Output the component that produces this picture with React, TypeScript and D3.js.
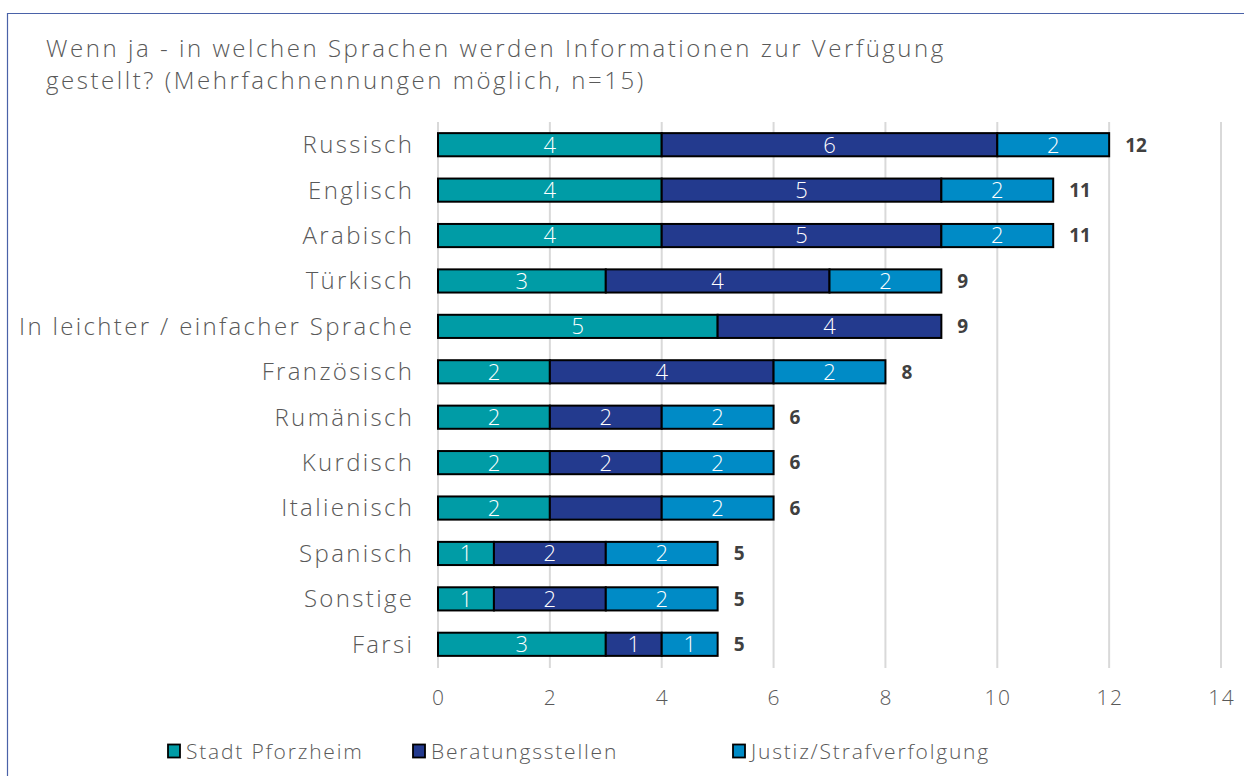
import React from "react";
import * as d3 from "d3";

const categories = [
  "Russisch",
  "Englisch",
  "Arabisch",
  "Türkisch",
  "In leichter / einfacher Sprache",
  "Französisch",
  "Rumänisch",
  "Kurdisch",
  "Italienisch",
  "Spanisch",
  "Sonstige",
  "Farsi",
];
const seriesNames = ["Stadt Pforzheim", "Beratungsstellen", "Justiz/Strafverfolgung"];
const stadt = [4, 4, 4, 3, 5, 2, 2, 2, 2, 1, 1, 3];
const beratung = [6, 5, 5, 4, 4, 4, 2, 2, 2, 2, 2, 1];
const justiz = [2, 2, 2, 2, 0, 2, 2, 2, 2, 2, 2, 1];
// segment labels not shown in the reference: [categoryIndex, seriesIndex]
const hiddenLabels = [[8, 1]];
const xTicks = [0, 2, 4, 6, 8, 10, 12, 14];
const colors = ["#009ca6", "#233a8e", "#008bc6"];
const title = [
  "Wenn ja - in welchen Sprachen werden Informationen zur Verfügung",
  "gestellt? (Mehrfachnennungen möglich, n=15)",
];

const W = 1244;
const H = 776;
const FONT = "'Open Sans', sans-serif";

export default function App() {
  const x = d3.scaleLinear().domain([0, 14]).range([438, 1221]);
  const y = d3.scaleBand().domain(categories).range([122, 667]).paddingInner(0.49).paddingOuter(0.245);
  const data = categories.map((c, i) => ({ cat: c, stadt: stadt[i], beratung: beratung[i], justiz: justiz[i] }));
  const stack = d3.stack<any>().keys(["stadt", "beratung", "justiz"])(data);
  const gridTop = 122;
  const gridBottom = 668;

  const legendItems = [
    { x: 168, label: seriesNames[0] },
    { x: 413, label: seriesNames[1] },
    { x: 733, label: seriesNames[2] },
  ];

  const catLS = 2.35;
  const tickLS = 1.5;
  const segLS = 1.0;

  return (
    <svg width={W} height={H} style={{ position: "absolute", left: 0, top: 0, display: "block" }}>
      <rect x={0} y={0} width={W} height={H} fill="#ffffff" />
      <path d={`M7.5,${H + 5} L7.5,13.5 L${W + 5},13.5`} fill="none" stroke="#4a62a8" strokeWidth={1.2} />
      {title.map((t, i) => (
        <text
          key={i}
          x={46}
          y={57 + i * 32}
          fontFamily={FONT}
          fontWeight={300}
          fontSize={24}
          letterSpacing={2.55}
          fill="#595959"
        >
          {t}
        </text>
      ))}
      {xTicks.map((t) => (
        <g key={t}>
          <line x1={x(t)} x2={x(t)} y1={gridTop} y2={gridBottom} stroke="#d9d9d9" strokeWidth={2} />
          <text
            x={x(t) + tickLS / 2}
            y={705}
            textAnchor="middle"
            fontFamily={FONT}
            fontWeight={300}
            fontSize={21}
            letterSpacing={tickLS}
            fill="#595959"
          >
            {t}
          </text>
        </g>
      ))}
      {categories.map((c) => (
        <text
          key={c}
          x={412 + catLS}
          y={(y(c) as number) + y.bandwidth() / 2}
          dy="0.35em"
          textAnchor="end"
          fontFamily={FONT}
          fontWeight={300}
          fontSize={24}
          letterSpacing={catLS}
          fill="#595959"
        >
          {c}
        </text>
      ))}
      {stack.map((s, si) =>
        s.map((d, ci) => {
          const v = d[1] - d[0];
          if (v <= 0) return null;
          const x0 = x(d[0]);
          const x1 = x(d[1]);
          const yy = y(categories[ci]) as number;
          const hidden = hiddenLabels.some((h) => h[0] === ci && h[1] === si);
          return (
            <g key={`${si}-${ci}`}>
              <rect x={x0} y={yy} width={x1 - x0} height={y.bandwidth()} fill={colors[si]} stroke="#000" strokeWidth={2} />
              {!hidden && (
                <text
                  x={(x0 + x1) / 2 + segLS / 2}
                  y={yy + y.bandwidth() / 2}
                  dy="0.36em"
                  textAnchor="middle"
                  fontFamily={FONT}
                  fontWeight={300}
                  fontSize={22}
                  letterSpacing={segLS}
                  fill="#ffffff"
                >
                  {v}
                </text>
              )}
            </g>
          );
        })
      )}
      {data.map((d) => {
        const total = d.stadt + d.beratung + d.justiz;
        return (
          <text
            key={d.cat}
            x={x(total) + 16}
            y={(y(d.cat) as number) + y.bandwidth() / 2}
            dy="0.36em"
            fontFamily={FONT}
            fontWeight={700}
            fontSize={19}
            fill="#404040"
          >
            {total}
          </text>
        );
      })}
      {legendItems.map((l, i) => (
        <g key={l.label}>
          <rect x={l.x} y={744.5} width={12} height={13} fill={colors[i]} stroke="#000" strokeWidth={1.8} />
          <text
            x={l.x + 18}
            y={758.5}
            fontFamily={FONT}
            fontWeight={300}
            fontSize={21}
            letterSpacing={1.8}
            fill="#595959"
          >
            {l.label}
          </text>
        </g>
      ))}
    </svg>
  );
}
